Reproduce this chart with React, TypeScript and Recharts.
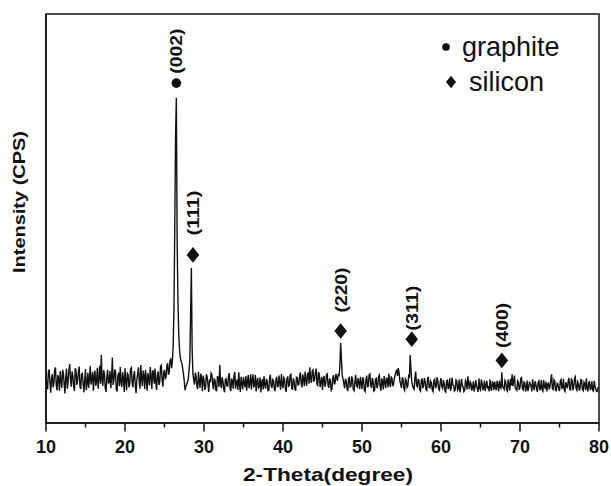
import React from "react";
import {
  ComposedChart,
  Line,
  XAxis,
  YAxis,
  ReferenceDot,
  ReferenceArea,
  Legend,
} from "recharts";

// XRD scan, 0.1 degree steps from 10 to 80 (2-theta), one row per degree
const thetaStart = 10;
const thetaStep = 0.1;
const intensity = [
  11.6, 9.4, 8.2, 12.5, 13.1, 9.9, 7.4, 10.8, 12.0, 8.7,
  9.8, 12.9, 13.6, 9.2, 8.0, 11.7, 10.9, 7.9, 12.7, 10.4,
  8.6, 13.0, 12.2, 9.5, 7.2, 11.1, 13.3, 8.4, 10.1, 12.8,
  14.4, 10.7, 8.9, 12.6, 11.5, 9.0, 7.8, 13.4, 12.9, 9.3,
  10.3, 12.4, 13.8, 8.8, 8.3, 11.9, 12.1, 9.7, 7.5, 10.5,
  13.2, 8.1, 9.7, 12.3, 8.6, 10.9, 13.9, 9.4, 10.6, 12.5,
  7.9, 11.3, 12.8, 9.1, 10.2, 13.5, 8.4, 11.0, 14.0, 9.6,
  16.7, 10.5, 9.1, 12.9, 12.0, 8.5, 7.6, 11.4, 13.0, 9.8,
  10.0, 12.7, 8.5, 11.2, 16.0, 9.3, 10.4, 13.1, 12.6, 8.2,
  7.7, 11.5, 12.3, 9.0, 13.7, 10.1, 8.8, 12.4, 11.0, 7.6,
  13.4, 10.3, 8.0, 12.1, 11.8, 8.7, 9.5, 13.2, 13.5, 9.9,
  8.7, 11.6, 12.7, 9.4, 7.3, 10.6, 12.0, 13.6, 10.2, 8.4,
  14.2, 11.0, 9.0, 12.8, 11.6, 8.3, 13.0, 10.7, 7.9, 12.2,
  10.8, 9.2, 13.7, 11.4, 8.3, 12.9, 12.4, 9.6, 13.3, 10.0,
  8.1, 11.7, 12.6, 9.3, 10.0, 13.8, 14.1, 10.5, 8.9, 12.3,
  13.0, 10.9, 11.2, 14.0, 14.6, 11.8, 12.5, 15.3, 15.6, 13.4,
  15.2, 19.0, 28.0, 48.0, 70.0, 79.5, 45.0, 30.0, 22.0, 18.0,
  16.0, 15.0, 14.6, 13.3, 12.0, 10.2, 8.0, 8.9, 9.4, 10.1,
  10.6, 12.8, 15.0, 26.0, 37.9, 18.0, 12.0, 10.5, 9.4, 12.3,
  11.4, 9.0, 8.3, 12.5, 10.2, 8.6, 12.1, 10.9, 7.8, 11.6,
  10.5, 8.1, 8.7, 11.9, 11.3, 9.4, 7.6, 10.7, 9.9, 12.2,
  11.8, 9.6, 8.2, 10.9, 10.4, 8.0, 7.9, 11.5, 11.0, 8.8,
  14.2, 9.9, 8.5, 11.2, 10.1, 8.3, 7.5, 10.6, 10.8, 9.1,
  9.0, 11.4, 12.2, 8.6, 7.8, 10.9, 10.3, 8.4, 11.6, 12.5,
  8.4, 10.0, 10.6, 8.1, 12.4, 9.5, 7.6, 11.3, 9.8, 8.2,
  11.2, 9.7, 8.8, 11.5, 7.9, 10.2, 11.7, 8.5, 9.6, 11.9,
  8.2, 10.4, 11.9, 8.7, 9.3, 11.8, 7.7, 10.1, 11.0, 8.6,
  8.9, 11.2, 7.5, 9.9, 10.7, 8.2, 11.5, 9.4, 8.4, 10.8,
  10.2, 7.9, 8.0, 11.0, 11.8, 9.1, 8.6, 10.6, 10.4, 8.3,
  7.8, 10.5, 11.3, 8.9, 9.0, 11.6, 9.9, 8.1, 12.0, 9.5,
  8.5, 11.1, 10.7, 8.3, 7.6, 10.8, 11.4, 9.0, 9.2, 11.7,
  11.9, 8.6, 8.1, 10.9, 10.3, 8.4, 7.9, 11.2, 11.1, 9.3,
  9.4, 11.5, 12.4, 9.7, 8.7, 11.9, 10.8, 9.0, 12.6, 10.4,
  9.1, 12.0, 12.2, 9.6, 13.6, 10.8, 9.8, 12.7, 13.0, 10.1,
  10.6, 12.4, 13.3, 9.5, 9.2, 12.5, 11.8, 8.8, 9.9, 11.3,
  8.1, 10.7, 11.5, 8.9, 9.6, 11.8, 12.0, 9.2, 8.6, 10.9,
  10.4, 8.0, 8.3, 11.1, 11.7, 9.4, 9.9, 12.0, 11.0, 10.3,
  12.0, 11.4, 14.0, 19.6, 15.5, 11.6, 10.8, 9.6, 8.5, 10.8,
  10.3, 8.4, 7.8, 10.9, 11.1, 8.8, 9.0, 11.4, 10.6, 8.2,
  7.9, 10.2, 11.8, 9.1, 8.8, 11.0, 10.0, 8.3, 11.3, 9.7,
  8.3, 11.2, 10.5, 8.0, 7.7, 10.6, 11.6, 8.9, 9.0, 11.8,
  12.0, 9.3, 8.6, 11.0, 10.2, 7.8, 8.0, 10.7, 10.9, 8.5,
  9.2, 11.3, 11.7, 8.8, 7.9, 10.9, 10.1, 8.2, 11.5, 9.9,
  8.5, 11.1, 10.6, 8.7, 12.1, 9.8, 8.8, 11.4, 10.8, 9.0,
  9.6, 11.0, 11.8, 12.6, 12.9, 11.5, 13.4, 12.2, 10.2, 9.4,
  8.6, 11.2, 10.7, 8.4, 8.0, 10.8, 10.4, 8.7, 9.0, 11.4,
  11.0, 16.6, 13.0, 10.0, 9.2, 8.6, 8.3, 11.1, 12.6, 9.3,
  8.9, 10.6, 10.5, 8.1, 7.8, 10.3, 10.9, 8.5, 9.2, 11.0,
  10.0, 8.2, 8.0, 10.8, 11.3, 8.7, 8.6, 10.2, 9.8, 8.0,
  7.7, 10.4, 10.7, 8.5, 9.0, 11.2, 10.3, 8.4, 8.1, 10.0,
  11.0, 8.9, 8.5, 10.5, 9.7, 7.9, 7.6, 10.1, 10.6, 8.3,
  8.8, 10.9, 7.9, 8.6, 11.1, 9.4, 9.1, 7.8, 8.1, 10.5,
  10.2, 8.0, 8.4, 10.6, 7.5, 8.7, 10.8, 9.3, 8.9, 7.7,
  8.0, 10.4, 10.0, 8.2, 11.4, 9.6, 8.3, 10.1, 9.7, 7.9,
  8.7, 10.2, 7.7, 8.8, 10.5, 9.0, 8.4, 7.6, 10.9, 8.5,
  8.1, 10.6, 9.8, 8.0, 8.6, 10.4, 7.8, 9.2, 10.3, 8.4,
  9.0, 7.7, 10.7, 8.6, 7.9, 10.2, 9.6, 8.1, 10.1, 8.8,
  8.0, 10.3, 9.3, 7.8, 10.4, 8.7, 8.5, 12.4, 9.0, 8.6,
  8.2, 10.4, 10.0, 8.1, 7.8, 10.6, 9.5, 7.9, 10.8, 9.2,
  11.9, 9.0, 10.2, 11.6, 8.6, 8.2, 8.0, 10.3, 9.9, 8.1,
  8.8, 10.9, 11.1, 8.4, 8.1, 10.0, 9.8, 7.7, 8.5, 10.4,
  7.8, 8.6, 10.1, 9.6, 9.0, 7.7, 10.7, 8.9, 8.0, 10.2,
  9.6, 8.3, 7.6, 10.0, 10.3, 8.0, 8.6, 10.5, 8.1, 7.8,
  10.5, 8.9, 8.4, 10.1, 7.7, 9.4, 9.9, 8.2, 8.9, 10.6,
  11.9, 8.4, 8.2, 10.6, 10.2, 8.0, 7.9, 9.7, 9.5, 8.3,
  7.8, 10.2, 10.6, 8.5, 8.7, 10.8, 8.0, 7.7, 10.0, 9.1,
  8.5, 10.3, 11.0, 8.2, 8.1, 10.7, 10.4, 8.0, 8.8, 10.9,
  11.3, 8.4, 8.0, 10.1, 9.7, 7.9, 8.4, 10.6, 10.5, 8.2,
  7.9, 10.0, 9.6, 8.1, 10.9, 8.6, 7.7, 9.9, 10.1, 8.0,
  8.6, 10.2, 8.0, 7.8, 10.3, 8.9, 8.3, 7.7, 7.8, 8.7,
  8.8,
];

// indexed reflections
const peakTheta = [26.5, 28.6, 47.3, 56.3, 67.7];
const peakMarkerLevel = [83.1, 41.1, 22.5, 20.5, 15.3];
const peakLabels = ["(002)", "(111)", "(220)", "(311)", "(400)"];
const peakPhase = ["graphite", "silicon", "silicon", "silicon", "silicon"];
const phaseNames = ["graphite", "silicon"];

const xTicks = [10, 15, 20, 25, 30, 35, 40, 45, 50, 55, 60, 65, 70, 75, 80];

// pixel gap from marker centre to its hkl label
const labelLift = [32, 42, 41, 31, 35];

const FONT = "'Liberation Sans', Arial, Helvetica, sans-serif";
const INK = "#111";

const data = intensity.map((v, i) => ({
  theta: Math.round((thetaStart + i * thetaStep) * 10) / 10,
  intensity: v,
}));

function PhaseSymbol({ phase, cx, cy, scale = 1 }: any) {
  if (phase === "graphite") {
    return <circle cx={cx} cy={cy} r={4.8 * scale} fill={INK} />;
  }
  const w = 6.3 * scale;
  const h = 7.8 * scale;
  return (
    <path
      d={`M${cx},${cy - h} L${cx + w},${cy} L${cx},${cy + h} L${cx - w},${cy} Z`}
      fill={INK}
    />
  );
}

function PeakMark({ cx, cy, idx }: any) {
  const ly = cy - labelLift[idx];
  return (
    <g>
      <PhaseSymbol phase={peakPhase[idx]} cx={cx} cy={cy} />
      <text
        x={cx}
        y={ly}
        dy="0.36em"
        transform={`rotate(-90 ${cx} ${ly})`}
        textAnchor="middle"
        fontFamily={FONT}
        fontWeight="bold"
        fontSize={17}
        textLength={45}
        lengthAdjust="spacingAndGlyphs"
        fill={INK}
      >
        {peakLabels[idx]}
      </text>
    </g>
  );
}

function ThetaTick({ x, y, payload }: any) {
  const major = payload.value % 10 === 0;
  return (
    <g>
      <line
        x1={x}
        x2={x}
        y1={y}
        y2={y + (major ? 8.5 : 4.5)}
        stroke={INK}
        strokeWidth={1.5}
      />
      {major && (
        <text
          x={x}
          y={y + 30}
          textAnchor="middle"
          fontFamily={FONT}
          fontWeight="bold"
          fontSize={18}
          fill={INK}
        >
          {payload.value}
        </text>
      )}
    </g>
  );
}

function XTitle() {
  return (
    <text
      x={328}
      y={481}
      textAnchor="middle"
      fontFamily={FONT}
      fontWeight="bold"
      fontSize={19}
      textLength={170}
      lengthAdjust="spacingAndGlyphs"
      fill={INK}
    >
      2-Theta(degree)
    </text>
  );
}

function YTitle() {
  return (
    <text
      x={19}
      y={202}
      dy="0.36em"
      transform="rotate(-90 19 202)"
      textAnchor="middle"
      fontFamily={FONT}
      fontWeight="bold"
      fontSize={17}
      textLength={142}
      lengthAdjust="spacingAndGlyphs"
      fill={INK}
    >
      Intensity (CPS)
    </text>
  );
}

function PhaseLegend() {
  return (
    <svg width={170} height={75}>
      <PhaseSymbol phase={phaseNames[0]} cx={10} cy={19} scale={0.8} />
      <text x={26} y={28} fontFamily={FONT} fontSize={27} fill={INK}>
        {phaseNames[0]}
      </text>
      <PhaseSymbol phase={phaseNames[1]} cx={15} cy={54} scale={0.8} />
      <text x={33} y={63} fontFamily={FONT} fontSize={27} fill={INK}>
        {phaseNames[1]}
      </text>
    </svg>
  );
}

export default function App() {
  return (
    <div style={{ position: "absolute", left: 0, top: 0 }}>
      <ComposedChart
        width={611}
        height={486}
        data={data}
        margin={{ top: 14, right: 12, left: 0, bottom: 0 }}
        style={{ fontFamily: FONT }}
      >
        <XAxis
          dataKey="theta"
          type="number"
          domain={[10, 80]}
          ticks={xTicks}
          interval={0}
          tickSize={0}
          tickMargin={0}
          tickLine={false}
          tick={<ThetaTick />}
          height={63}
          axisLine={{ stroke: INK, strokeWidth: 1.5 }}
          label={<XTitle />}
        />
        <YAxis
          type="number"
          domain={[0, 100]}
          width={46}
          tick={false}
          tickLine={false}
          axisLine={{ stroke: INK, strokeWidth: 1.5 }}
          label={<YTitle />}
        />
        <ReferenceArea
          x1={10}
          x2={80}
          y1={0}
          y2={100}
          fill="none"
          stroke={INK}
          strokeWidth={1.5}
          ifOverflow="visible"
        />
        <Line
          type="linear"
          dataKey="intensity"
          stroke={INK}
          strokeWidth={1.4}
          strokeLinejoin="miter"
          dot={false}
          isAnimationActive={false}
        />
        {peakTheta.map((t, i) => (
          <ReferenceDot
            key={peakLabels[i]}
            x={t}
            y={peakMarkerLevel[i]}
            r={5}
            ifOverflow="visible"
            shape={(p: any) => <PeakMark cx={p.cx} cy={p.cy} idx={i} />}
          />
        ))}
        <Legend
          layout="vertical"
          align="center"
          verticalAlign="middle"
          content={() => <PhaseLegend />}
          wrapperStyle={{ left: 436, top: 28, width: 170, height: 75 }}
        />
      </ComposedChart>
    </div>
  );
}
